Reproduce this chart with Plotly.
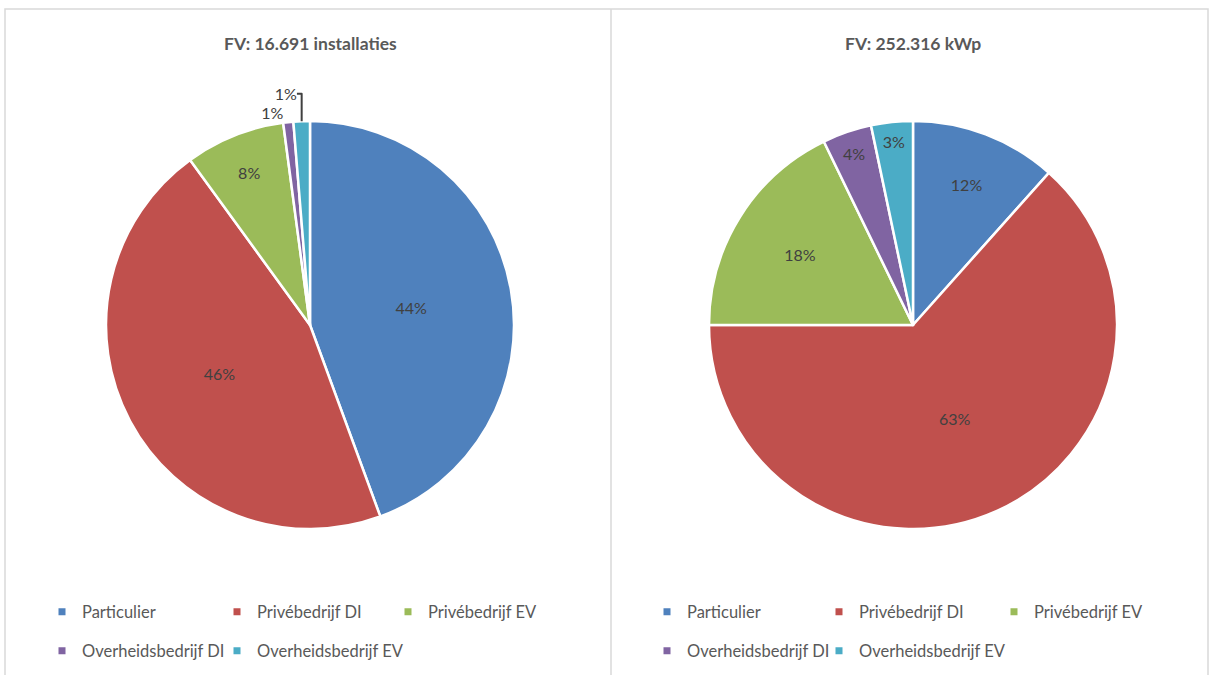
import plotly.graph_objects as go

# share of each category (percent)
labels = ["Particulier", "Privébedrijf DI", "Privébedrijf EV",
          "Overheidsbedrijf DI", "Overheidsbedrijf EV"]
installaties = [44.4, 45.6, 7.9, 0.8, 1.3]
vermogen_kwp = [11.6, 63.4, 17.8, 3.9, 3.3]

titles = ["FV: 16.691 installaties", "FV: 252.316 kWp"]
colors = ["#4F81BD", "#C0504D", "#9BBB59", "#8064A2", "#4BACC6"]

W, H = 1212, 675
FONT = "Lato, 'Open Sans', sans-serif"


def px_x(p):
    return p / W


def px_y(p):
    return 1 - p / H


fig = go.Figure()

# left pie: centre ~ (310, 325), right pie ~ (913, 325), radius ~204
fig.add_trace(go.Pie(
    labels=labels, values=installaties, sort=False, direction="clockwise",
    rotation=0, marker=dict(colors=colors, line=dict(color="white", width=2.5)),
    texttemplate="%{percent:.0%}", textposition=["inside", "inside", "inside", "outside", "outside"],
    insidetextorientation="horizontal",
    textfont=dict(size=16, color="#404040", family=FONT),
    domain=dict(x=[px_x(106), px_x(514)], y=[px_y(529), px_y(121)]),
    showlegend=False, hoverinfo="label+percent",
))
fig.add_trace(go.Pie(
    labels=labels, values=vermogen_kwp, sort=False, direction="clockwise",
    rotation=0, marker=dict(colors=colors, line=dict(color="white", width=2.5)),
    texttemplate="%{percent:.0%}", textposition="inside",
    insidetextorientation="horizontal",
    textfont=dict(size=16, color="#404040", family=FONT),
    domain=dict(x=[px_x(709), px_x(1117)], y=[px_y(529), px_y(121)]),
    showlegend=False, hoverinfo="label+percent",
))

# legend: one small legend per entry, laid out like the Excel legend
# (3 entries on the first row, 2 on the second, in each panel)
col_left = [[42, 217, 388], [647, 819, 994]]
row_y = [612, 651]
legend_style = dict(orientation="h", xanchor="left", yanchor="middle",
                    font=dict(size=16.5, color="#595959", family=FONT),
                    bgcolor="rgba(0,0,0,0)")
legends = {}
n = 0
for panel in range(2):
    for i, (lab, col) in enumerate(zip(labels, colors)):
        n += 1
        key = "legend" if n == 1 else "legend%d" % n
        fig.add_trace(go.Scatter(
            x=[None], y=[None], mode="markers", name=lab,
            marker=dict(symbol="square", size=7, color=col),
            legend=key, hoverinfo="skip",
        ))
        legends[key] = dict(x=px_x(col_left[panel][i % 3]), y=px_y(row_y[i // 3]), **legend_style)

fig.update_layout(
    width=W, height=H,
    margin=dict(l=0, r=0, t=0, b=0, autoexpand=False),
    paper_bgcolor="white", plot_bgcolor="white",
    font=dict(family=FONT, color="#595959"),
    showlegend=True,
    xaxis=dict(visible=False), yaxis=dict(visible=False),
    annotations=[
        dict(text="<b>%s</b>" % titles[0], x=px_x(310), y=px_y(43), xref="paper", yref="paper",
             xanchor="center", yanchor="middle", showarrow=False,
             font=dict(size=17.5, color="#595959", family=FONT)),
        dict(text="<b>%s</b>" % titles[1], x=px_x(913), y=px_y(43), xref="paper", yref="paper",
             xanchor="center", yanchor="middle", showarrow=False,
             font=dict(size=17.5, color="#595959", family=FONT)),
    ],
    shapes=[
        dict(type="rect", xref="paper", yref="paper", x0=px_x(5), x1=px_x(1208),
             y0=px_y(690), y1=px_y(9), line=dict(color="#D9D9D9", width=1.5)),
        dict(type="line", xref="paper", yref="paper", x0=px_x(611), x1=px_x(611),
             y0=px_y(690), y1=px_y(9), line=dict(color="#D9D9D9", width=1.5)),
    ],
    **legends,
)

# drop the browser's default 8px body margin so the figure sits at the page corner
fig.write_html("out.html", config={"displayModeBar": False},
               post_script="document.body.style.margin = '0';")
